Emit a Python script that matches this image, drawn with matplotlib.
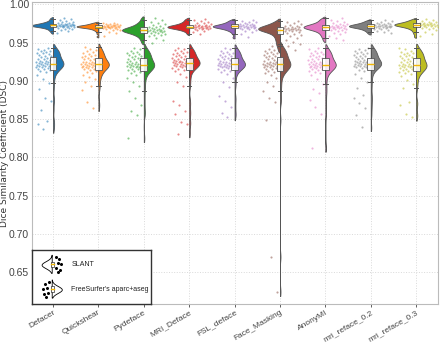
import numpy as np
import matplotlib
matplotlib.use("Agg")
import matplotlib.pyplot as plt
from matplotlib.patches import Rectangle, Polygon

methods = ["Defacer", "Quickshear", "Pydeface", "MRI_Deface", "FSL_deface",
           "Face_Masking", "AnonyMI", "mri_reface_0.2", "mri_reface_0.3"]
colors = ["#1f77b4", "#ff7f0e", "#2ca02c", "#d62728", "#9467bd",
          "#8c564b", "#e377c2", "#7f7f7f", "#bcbd22"]

# SLANT DSC per method
slant_defacer = [0.9630, 0.9652, 0.9663, 0.9678, 0.9684, 0.9691, 0.9697, 0.9702, 0.9705, 0.9709, 0.9712, 0.9714,
                 0.9716, 0.9718, 0.9720, 0.9722, 0.9724, 0.9726, 0.9728, 0.9731, 0.9733, 0.9736, 0.9739, 0.9742,
                 0.9745, 0.9749, 0.9753, 0.9758, 0.9763, 0.9770, 0.9778, 0.9790, 0.9805, 0.9820]
slant_quickshear = [0.9580, 0.9620, 0.9645, 0.9660, 0.9670, 0.9678, 0.9684, 0.9689, 0.9693, 0.9696, 0.9699, 0.9701,
                    0.9703, 0.9705, 0.9707, 0.9709, 0.9711, 0.9713, 0.9715, 0.9717, 0.9719, 0.9721, 0.9724, 0.9727,
                    0.9730, 0.9734, 0.9738, 0.9743, 0.9748, 0.9755, 0.9762]
slant_pydeface = [0.9500, 0.9535, 0.9560, 0.9580, 0.9595, 0.9605, 0.9615, 0.9622, 0.9630, 0.9636, 0.9641, 0.9646,
                  0.9650, 0.9654, 0.9658, 0.9662, 0.9666, 0.9670, 0.9674, 0.9678, 0.9683, 0.9688, 0.9694, 0.9700,
                  0.9707, 0.9715, 0.9725, 0.9737, 0.9750, 0.9765, 0.9790, 0.9820]
slant_mri_deface = [0.9615, 0.9640, 0.9655, 0.9665, 0.9672, 0.9678, 0.9683, 0.9687, 0.9691, 0.9694, 0.9697, 0.9700,
                    0.9703, 0.9706, 0.9709, 0.9712, 0.9715, 0.9718, 0.9722, 0.9726, 0.9731, 0.9736, 0.9742, 0.9750,
                    0.9758, 0.9768, 0.9780, 0.9795, 0.9810]
slant_fsl = [0.9570, 0.9615, 0.9640, 0.9655, 0.9666, 0.9674, 0.9681, 0.9687, 0.9692, 0.9696, 0.9700, 0.9703,
             0.9706, 0.9709, 0.9712, 0.9715, 0.9718, 0.9721, 0.9724, 0.9728, 0.9732, 0.9737, 0.9742, 0.9748,
             0.9755, 0.9763, 0.9772, 0.9785, 0.9795]
slant_face_masking = [0.9400, 0.9450, 0.9480, 0.9510, 0.9535, 0.9560, 0.9580, 0.9600, 0.9615, 0.9628, 0.9638, 0.9646,
                      0.9653, 0.9659, 0.9664, 0.9668, 0.9672, 0.9676, 0.9680, 0.9684, 0.9688, 0.9692, 0.9697, 0.9702,
                      0.9708, 0.9714, 0.9721, 0.9729, 0.9738, 0.9750, 0.9765, 0.9785]
slant_anonymi = [0.9530, 0.9565, 0.9590, 0.9610, 0.9628, 0.9642, 0.9653, 0.9662, 0.9670, 0.9676, 0.9681, 0.9686,
                 0.9690, 0.9694, 0.9698, 0.9702, 0.9706, 0.9710, 0.9714, 0.9718, 0.9723, 0.9728, 0.9734, 0.9741,
                 0.9749, 0.9758, 0.9770, 0.9785, 0.9800, 0.9818]
slant_reface_02 = [0.9620, 0.9640, 0.9655, 0.9666, 0.9675, 0.9683, 0.9689, 0.9694, 0.9698, 0.9702, 0.9705, 0.9708,
                   0.9711, 0.9714, 0.9717, 0.9720, 0.9723, 0.9726, 0.9729, 0.9733, 0.9737, 0.9741, 0.9746, 0.9752,
                   0.9759, 0.9767, 0.9777, 0.9790]
slant_reface_03 = [0.9580, 0.9615, 0.9640, 0.9660, 0.9675, 0.9686, 0.9695, 0.9702, 0.9708, 0.9713, 0.9717, 0.9721,
                   0.9724, 0.9727, 0.9730, 0.9733, 0.9736, 0.9739, 0.9742, 0.9745, 0.9749, 0.9753, 0.9757, 0.9762,
                   0.9768, 0.9775, 0.9783, 0.9793, 0.9805]

# FreeSurfer aparc+aseg DSC per method
fs_defacer = [0.837, 0.843, 0.848, 0.862, 0.873, 0.877, 0.889, 0.897, 0.903, 0.908,
              0.911, 0.9125, 0.914, 0.915, 0.916, 0.917, 0.918, 0.9185, 0.919, 0.9195, 0.920, 0.9205, 0.921,
              0.9215, 0.922, 0.9225, 0.923, 0.9235, 0.924, 0.9245, 0.925, 0.9255, 0.926, 0.927, 0.928, 0.929,
              0.930, 0.931, 0.932, 0.933, 0.934, 0.935, 0.936, 0.937, 0.938, 0.9385, 0.939, 0.940, 0.9415, 0.943]
fs_quickshear = [0.865, 0.872, 0.888, 0.893, 0.898, 0.902, 0.905, 0.908, 0.910,
                 0.911, 0.9125, 0.914, 0.915, 0.916, 0.917, 0.9175, 0.918, 0.9185, 0.919, 0.9195, 0.920, 0.9205,
                 0.921, 0.9215, 0.922, 0.9225, 0.923, 0.9235, 0.924, 0.9245, 0.925, 0.926, 0.927, 0.928, 0.929,
                 0.930, 0.931, 0.932, 0.933, 0.934, 0.935, 0.936, 0.9375, 0.939, 0.9405, 0.942, 0.944]
fs_pydeface = [0.825, 0.855, 0.860, 0.869, 0.878, 0.887, 0.893, 0.899, 0.904, 0.908,
               0.910, 0.9115, 0.913, 0.914, 0.915, 0.916, 0.917, 0.9175, 0.918, 0.9185, 0.919, 0.9195, 0.920,
               0.9205, 0.921, 0.9215, 0.922, 0.9225, 0.923, 0.924, 0.925, 0.926, 0.927, 0.928, 0.929, 0.930,
               0.931, 0.932, 0.933, 0.934, 0.935, 0.936, 0.937, 0.938, 0.9395, 0.941, 0.943]
fs_mri_deface = [0.831, 0.843, 0.846, 0.856, 0.860, 0.869, 0.874, 0.893, 0.899, 0.905, 0.909,
                 0.913, 0.9145, 0.916, 0.917, 0.918, 0.919, 0.9195, 0.920, 0.9205, 0.921, 0.9215, 0.922, 0.9225,
                 0.923, 0.9235, 0.924, 0.9245, 0.925, 0.9255, 0.926, 0.9265, 0.927, 0.928, 0.929, 0.930, 0.931,
                 0.932, 0.933, 0.934, 0.935, 0.936, 0.937, 0.938, 0.939, 0.9405, 0.942, 0.943]
fs_fsl = [0.853, 0.858, 0.866, 0.874, 0.880, 0.892, 0.898, 0.904, 0.909,
          0.9115, 0.913, 0.9145, 0.9155, 0.9165, 0.9175, 0.918, 0.9185, 0.919, 0.9195, 0.920, 0.9205, 0.921,
          0.9215, 0.922, 0.9225, 0.923, 0.9235, 0.924, 0.9245, 0.925, 0.926, 0.927, 0.928, 0.929, 0.930,
          0.931, 0.932, 0.933, 0.934, 0.935, 0.936, 0.937, 0.938, 0.9395, 0.941, 0.943]
fs_face_masking = [0.624, 0.670, 0.849, 0.872, 0.878, 0.887, 0.893, 0.899, 0.904, 0.908,
                   0.910, 0.9115, 0.913, 0.914, 0.915, 0.916, 0.917, 0.918, 0.9185, 0.919, 0.9195, 0.920, 0.9205,
                   0.921, 0.9215, 0.922, 0.9225, 0.923, 0.9235, 0.924, 0.925, 0.926, 0.927, 0.928, 0.929, 0.930,
                   0.931, 0.932, 0.933, 0.934, 0.935, 0.936, 0.937, 0.938, 0.939, 0.940, 0.9415, 0.943, 0.945]
fs_anonymi = [0.812, 0.857, 0.866, 0.875, 0.884, 0.889, 0.896, 0.902, 0.907,
              0.910, 0.9115, 0.913, 0.914, 0.915, 0.916, 0.917, 0.9175, 0.918, 0.9185, 0.919, 0.9195, 0.920,
              0.9205, 0.921, 0.9215, 0.922, 0.9225, 0.923, 0.9235, 0.924, 0.925, 0.926, 0.927, 0.928, 0.929,
              0.930, 0.931, 0.932, 0.933, 0.934, 0.935, 0.936, 0.937, 0.938, 0.9395, 0.941, 0.943]
fs_reface_02 = [0.839, 0.855, 0.864, 0.871, 0.877, 0.882, 0.891, 0.898, 0.904, 0.909,
                0.9125, 0.914, 0.9155, 0.9165, 0.9175, 0.9185, 0.919, 0.9195, 0.920, 0.9205, 0.921, 0.9215,
                0.922, 0.9225, 0.923, 0.9235, 0.924, 0.9245, 0.925, 0.9255, 0.926, 0.927, 0.928, 0.929, 0.930,
                0.931, 0.932, 0.933, 0.934, 0.935, 0.936, 0.937, 0.938, 0.939, 0.9405, 0.942, 0.943]
fs_reface_03 = [0.853, 0.856, 0.869, 0.872, 0.890, 0.896, 0.901, 0.906,
                0.909, 0.910, 0.9115, 0.913, 0.914, 0.915, 0.916, 0.917, 0.9175, 0.918, 0.9185, 0.919, 0.9195,
                0.920, 0.9205, 0.921, 0.9215, 0.922, 0.923, 0.924, 0.925, 0.926, 0.927, 0.928, 0.929, 0.930,
                0.931, 0.932, 0.933, 0.934, 0.935, 0.936, 0.937, 0.938, 0.9395, 0.941, 0.943]

slant_all = [slant_defacer, slant_quickshear, slant_pydeface, slant_mri_deface, slant_fsl,
             slant_face_masking, slant_anonymi, slant_reface_02, slant_reface_03]
fs_all = [fs_defacer, fs_quickshear, fs_pydeface, fs_mri_deface, fs_fsl,
          fs_face_masking, fs_anonymi, fs_reface_02, fs_reface_03]

edge = "#555555"
grid_c = "#d9d9d9"
med_c = "#f2b705"


def kde_curve(vals, n=400, bw_fac=0.3, cut=1.0):
    v = np.asarray(vals)
    q1, q3 = np.percentile(v, [25, 75])
    bw = bw_fac * (q3 - q1)
    g = np.linspace(v.min() - cut * bw, v.max() + cut * bw, n)
    d = np.exp(-0.5 * ((g[:, None] - v[None, :]) / bw) ** 2).sum(1)
    return g, d / d.max()


def jitter(n, lo, hi, seed):
    # golden-ratio spread, only to place points sideways
    k = (np.arange(n) * 0.6180339887 + seed) % 1.0
    return lo + k * (hi - lo)


fig = plt.figure(figsize=(4.4, 3.44), dpi=100)
ax = fig.add_axes([0.0727, 0.116, 0.9225, 0.878])

for i, (s, f, c) in enumerate(zip(slant_all, fs_all, colors)):
    # SLANT: half violin left, points right
    g, d = kde_curve(s)
    ax.fill_betweenx(g, i - 0.48 * d, i, color=c, ec=edge, lw=0.6, zorder=2)
    ax.scatter(i + jitter(len(s), 0.08, 0.48, 0.13 * i), s, s=2.4, color=c, alpha=0.55, lw=0, zorder=3)
    # FreeSurfer: points left, half violin right
    g, d = kde_curve(f)
    ax.fill_betweenx(g, i, i + 0.23 * d, color=c, ec=edge, lw=0.6, zorder=2)
    ax.scatter(i + jitter(len(f), -0.38, -0.04, 0.29 * i + 0.5), f, s=2.4, color=c, alpha=0.55, lw=0, zorder=3)

box_kw = dict(widths=0.15, showfliers=False, patch_artist=True,
              boxprops=dict(facecolor="white", edgecolor=edge, lw=0.7, alpha=0.85),
              medianprops=dict(color=med_c, lw=1.0),
              whiskerprops=dict(color=edge, lw=0.7),
              capprops=dict(color=edge, lw=0.7), capwidths=0.1, zorder=4)
pos = np.arange(len(methods))
ax.boxplot(slant_all, positions=pos, **box_kw)
ax.boxplot(fs_all, positions=pos, **box_kw)

ax.set_xlim(-0.463, 8.48)
ax.set_ylim(0.608, 1.003)
ax.set_yticks([0.65, 0.70, 0.75, 0.80, 0.85, 0.90, 0.95, 1.00])
ax.set_yticklabels(["0.65", "0.70", "0.75", "0.80", "0.85", "0.90", "0.95", "1.00"],
                   family="Liberation Sans", fontsize=7.5)
ax.set_xticks(pos)
ax.set_xticklabels(methods, rotation=30, ha="right", rotation_mode="anchor",
                   fontsize=6, family="Liberation Sans")
ax.tick_params(axis="y", colors="#444444", length=0, pad=2)
ax.tick_params(axis="x", colors="#444444", length=2.5, width=0.6, pad=1)
ax.set_ylabel("Dice Similarity Coefficient (DSC)", fontsize=6.5, color="#333333")
ax.yaxis.set_label_coords(-0.056, 0.5)
ax.grid(True, ls=":", color=grid_c, lw=0.7, zorder=0)
ax.set_axisbelow(True)
for sp in ax.spines.values():
    sp.set_color("#bbbbbb")
    sp.set_linewidth(0.8)

# custom legend box
lax = ax.inset_axes([0.0, 0.0, 0.293, 0.178])
lax.set_xlim(0, 1)
lax.set_ylim(0, 1)
lax.set_xticks([])
lax.set_yticks([])
for sp in lax.spines.values():
    sp.set_color("#333333")
    sp.set_linewidth(1.0)
lax.patch.set_facecolor("white")

t = np.linspace(-1, 1, 60)
w = np.exp(-3.5 * (t + 0.1) ** 2)
dots_dx = [0.03, 0.06, 0.045, 0.075, 0.035, 0.065, 0.05]
dots_dy = [0.13, 0.09, 0.02, 0.0, -0.07, -0.1, -0.15]


def glyph(cx, cy, left):
    sgn = -1 if left else 1
    xs = np.concatenate([cx + sgn * 0.085 * w, [cx, cx]])
    ys = np.concatenate([cy + 0.17 * t, [cy + 0.17, cy - 0.17]])
    lax.add_patch(Polygon(np.c_[xs, ys], closed=True, fc="white", ec="black", lw=0.6))
    lax.add_patch(Rectangle((cx - 0.012, cy - 0.05), 0.024, 0.1, fc="white", ec="black", lw=0.4))
    lax.plot([cx - 0.012, cx + 0.012], [cy, cy], color=med_c, lw=1.0)
    for dx, dy in zip(dots_dx, dots_dy):
        lax.plot(cx - sgn * dx, cy + dy, "o", ms=1.2, color="black")


glyph(0.17, 0.74, left=True)
glyph(0.17, 0.28, left=False)
lax.text(0.33, 0.74, "SLANT", fontsize=5, va="center", color="#222222", family="Liberation Sans")
lax.text(0.33, 0.28, "FreeSurfer's aparc+aseg", fontsize=5, va="center", color="#222222",
         family="Liberation Sans")

fig.savefig("out.png", dpi=100)
